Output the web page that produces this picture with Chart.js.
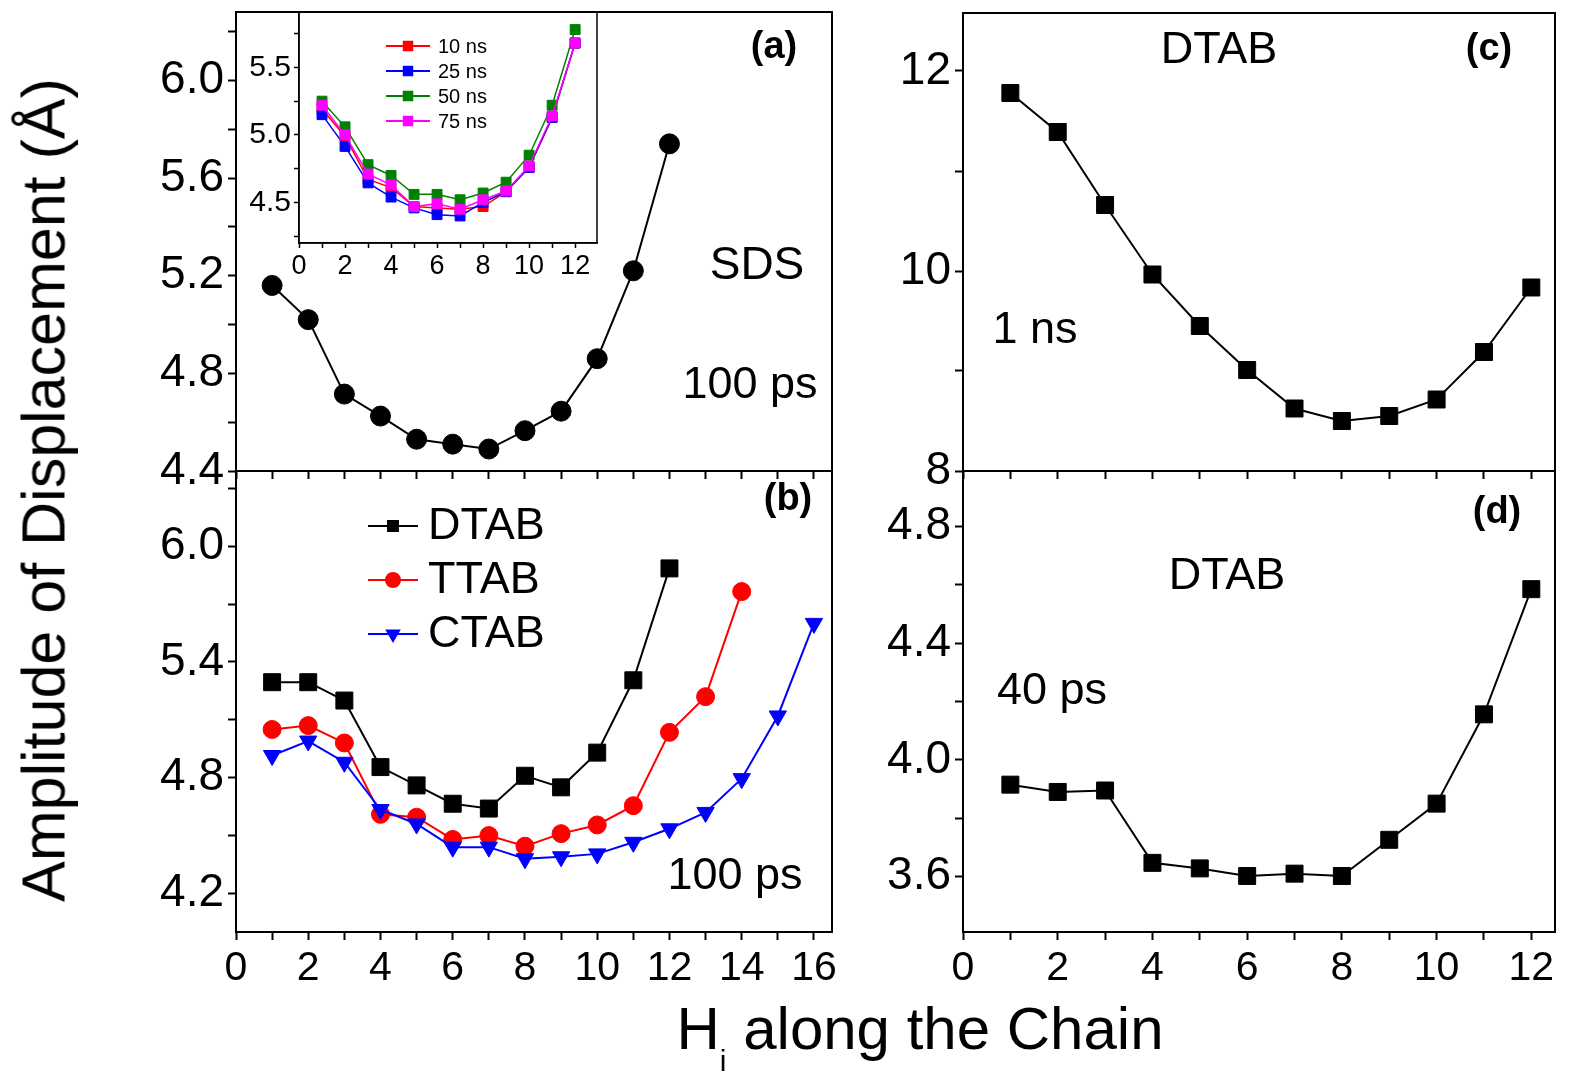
<!DOCTYPE html>
<html>
<head>
<meta charset="utf-8">
<script src="https://cdn.jsdelivr.net/npm/chart.js@4.4.0/dist/chart.umd.min.js"></script>
<style>
  body { margin: 0; background: #fff; }
  #wrap { position: relative; width: 1570px; height: 1078px; overflow: hidden; font-family: "Liberation Sans", Arial, sans-serif; color: #000; }
  canvas { position: absolute; left: 0; top: 0; }
  .lbl { position: absolute; transform: translate(-50%, -50%); line-height: 1; white-space: nowrap; }
  .tag { font-weight: bold; font-size: 38px; }
  .big { font-size: 45px; }
</style>
</head>
<body>
<div id="wrap">
  <canvas id="pa" width="1570" height="1078"></canvas>
  <canvas id="pb" width="1570" height="1078"></canvas>
  <canvas id="pc" width="1570" height="1078"></canvas>
  <canvas id="pd" width="1570" height="1078"></canvas>
  <canvas id="pin" width="1570" height="1078"></canvas>

  <div class="lbl tag" style="left:774px;top:45px">(a)</div>
  <div class="lbl big" style="left:757px;top:263px;font-size:46px">SDS</div>
  <div class="lbl big" style="left:750px;top:382px">100 ps</div>
  <div class="lbl tag" style="left:788px;top:497px">(b)</div>
  <div class="lbl big" style="left:735px;top:873px">100 ps</div>
  <div class="lbl big" style="left:1219px;top:47px">DTAB</div>
  <div class="lbl tag" style="left:1489px;top:47px">(c)</div>
  <div class="lbl big" style="left:1035px;top:327px">1 ns</div>
  <div class="lbl tag" style="left:1497px;top:510px">(d)</div>
  <div class="lbl big" style="left:1227px;top:573px">DTAB</div>
  <div class="lbl big" style="left:1052px;top:688px">40 ps</div>

  <div class="lbl" style="left:44px;top:490px;font-size:61px;transform:translate(-50%,-50%) rotate(-90deg)">Amplitude of Displacement (Å)</div>
  <div class="lbl" style="left:920px;top:1037px;font-size:60px">H<sub style="font-size:30px;vertical-align:-22px">i</sub> along the Chain</div>
</div>
<script>
// chain position H_i
const hIndex12 = [1, 2, 3, 4, 5, 6, 7, 8, 9, 10, 11, 12];
const hIndex14 = [1, 2, 3, 4, 5, 6, 7, 8, 9, 10, 11, 12, 13, 14];
const hIndex16 = [1, 2, 3, 4, 5, 6, 7, 8, 9, 10, 11, 12, 13, 14, 15, 16];

// (a) SDS 100 ps
const sdsA = [5.16, 5.02, 4.715, 4.625, 4.53, 4.51, 4.49, 4.565, 4.645, 4.86, 5.22, 5.74];
// (a) inset, different run lengths
const sds10ns = [5.19, 4.99, 4.67, 4.61, 4.47, 4.46, 4.45, 4.47, 4.58, 4.76, 5.13, 5.68];
const sds25ns = [5.15, 4.915, 4.645, 4.54, 4.46, 4.41, 4.40, 4.50, 4.58, 4.76, 5.13, 5.68];
const sds50ns = [5.25, 5.06, 4.78, 4.70, 4.56, 4.56, 4.52, 4.57, 4.65, 4.85, 5.22, 5.78];
const sds75ns = [5.22, 5.00, 4.71, 4.63, 4.47, 4.49, 4.45, 4.52, 4.585, 4.77, 5.14, 5.68];
// (b) 100 ps
const dtabB = [5.295, 5.295, 5.20, 4.855, 4.76, 4.665, 4.64, 4.81, 4.75, 4.93, 5.305, 5.885];
const ttabB = [5.05, 5.07, 4.98, 4.61, 4.595, 4.48, 4.50, 4.445, 4.51, 4.555, 4.655, 5.035, 5.22, 5.765];
const ctabB = [4.915, 4.99, 4.88, 4.635, 4.56, 4.44, 4.44, 4.38, 4.39, 4.405, 4.465, 4.535, 4.62, 4.795, 5.12, 5.60];
// (c) DTAB 1 ns, (d) DTAB 40 ps
const dtabC = [11.78, 11.39, 10.66, 9.965, 9.45, 9.01, 8.625, 8.50, 8.55, 8.715, 9.19, 9.835];
const dtabD = [3.915, 3.89, 3.895, 3.647, 3.628, 3.602, 3.61, 3.602, 3.726, 3.85, 4.156, 4.585];

// tick labels (major) and minor tick positions
const xMajor16 = [0, 2, 4, 6, 8, 10, 12, 14, 16];
const xMinor16 = [1, 3, 5, 7, 9, 11, 13, 15];
const xMajor12 = [0, 2, 4, 6, 8, 10, 12];
const xMinor12 = [1, 3, 5, 7, 9, 11];
const yMajorA = [4.4, 4.8, 5.2, 5.6, 6.0];
const yMinorA = [4.6, 5.0, 5.4, 5.8, 6.2];
const yMajorB = [4.2, 4.8, 5.4, 6.0];
const yMinorB = [4.5, 5.1, 5.7, 6.3];
const yMajorC = [8, 10, 12];
const yMinorC = [9, 11];
const yMajorD = [3.6, 4.0, 4.4, 4.8];
const yMinorD = [3.8, 4.2, 4.6];
const yMajorIn = [4.5, 5.0, 5.5];
const yMinorIn = [4.25, 4.75, 5.25, 5.75];

const FONT = '"Liberation Sans", Arial, sans-serif';
const W = 1570, H = 1078;

const pts = (xs, ys) => ys.map((y, i) => ({x: xs[i], y: y}));

const axis = (horiz, min, max, major, minor, o) => ({
    type: 'linear',
    min: min,
    max: max,
    afterBuildTicks: s => {
        s.ticks = major.concat(minor).sort((p, q) => p - q).map(v => ({value: v}));
    },
    afterFit: s => {
        if (horiz) s.height = o.size; else s.width = o.size;
        s.paddingTop = 0; s.paddingBottom = 0; s.paddingLeft = 0; s.paddingRight = 0;
    },
    ticks: {
        display: o.labels !== false,
        autoSkip: false,
        maxRotation: 0,
        color: '#000',
        padding: o.pad,
        font: {family: FONT, size: o.font},
        callback: v => major.includes(v) ? v.toFixed(o.dec) : ''
    },
    grid: {drawOnChartArea: false, drawTicks: true, tickLength: o.tick, tickWidth: o.lw, tickColor: '#000'},
    border: {display: true, color: '#000', width: o.lw}
});

// frame around the plot area
const boxPlugin = {
    id: 'box',
    afterDraw(chart, args, opts) {
        const {ctx, chartArea: a} = chart;
        ctx.save();
        ctx.strokeStyle = '#000';
        ctx.lineWidth = opts.lw || 2;
        ctx.strokeRect(a.left, a.top, a.right - a.left, a.bottom - a.top);
        ctx.restore();
    }
};

// legend drawn inside the plot
const innerLegend = {
    id: 'innerLegend',
    afterDraw(chart, args, opts) {
        if (!opts.show) return;
        const {ctx, chartArea: a} = chart;
        ctx.save();
        chart.data.datasets.forEach((ds, i) => {
            const y = a.top + opts.y + i * opts.dy;
            const x0 = a.left + opts.x;
            ctx.strokeStyle = ds.borderColor;
            ctx.lineWidth = opts.lw;
            ctx.beginPath();
            ctx.moveTo(x0, y);
            ctx.lineTo(x0 + opts.len, y);
            ctx.stroke();
            ctx.fillStyle = ds.pointBackgroundColor;
            ctx.strokeStyle = ds.pointBackgroundColor;
            Chart.helpers.drawPoint(ctx, {pointStyle: ds.pointStyle, radius: opts.r, rotation: ds.pointRotation || 0, borderWidth: 1}, x0 + opts.len / 2, y);
            ctx.fillStyle = '#000';
            ctx.font = opts.font + 'px ' + FONT;
            ctx.textBaseline = 'middle';
            ctx.fillText(ds.label, x0 + opts.len + opts.gap, y + 1);
        });
        ctx.restore();
    }
};

const series = (label, xs, ys, color, style, r, extra) => Object.assign({
    label: label,
    data: pts(xs, ys),
    borderColor: color,
    backgroundColor: color,
    pointBackgroundColor: color,
    pointBorderColor: color,
    pointBorderWidth: 1,
    borderWidth: 2,
    pointStyle: style,
    pointRadius: r,
    pointHoverRadius: r,
    tension: 0
}, extra || {});

const panel = (id, box, datasets, xAx, yAx, legend, lw) => {
    new Chart(document.getElementById(id), {
        type: 'line',
        data: {datasets: datasets},
        options: {
            responsive: false,
            animation: false,
            events: [],
            layout: {padding: {
                left: box.l - box.yw,
                top: box.t,
                right: W - box.r,
                bottom: H - box.b - box.xh
            }},
            scales: {x: xAx, y: yAx},
            plugins: {
                legend: {display: false},
                tooltip: {enabled: false},
                box: {lw: lw},
                innerLegend: legend || {show: false}
            }
        },
        plugins: [boxPlugin, innerLegend]
    });
};

const mainX = {size: 70, font: 41, pad: 4, tick: 8, lw: 2, dec: 0};
const mainY = {size: 130, font: 46, pad: 4, tick: 8, lw: 2, dec: 1};

// (a)
panel('pa', {l: 236, t: 12, r: 832, b: 471, yw: 130, xh: 70},
    [series('SDS', hIndex12, sdsA, '#000', 'circle', 10)],
    axis(true, 0, 16.5, xMajor16, xMinor16, Object.assign({}, mainX, {labels: false})),
    axis(false, 4.4, 6.28, yMajorA, yMinorA, mainY), null, 2);

// (b)
panel('pb', {l: 236, t: 471, r: 832, b: 932, yw: 130, xh: 70},
    [series('DTAB', hIndex12, dtabB, '#000', 'rect', 12, {order: 2}),
     series('TTAB', hIndex14, ttabB, '#ff0000', 'circle', 9, {order: 1}),
     series('CTAB', hIndex16, ctabB, '#0000ff', 'triangle', 10, {order: 0, pointRotation: 180})],
    axis(true, 0, 16.5, xMajor16, xMinor16, mainX),
    axis(false, 4.0, 6.39, yMajorB, yMinorB, mainY),
    {show: true, x: 132, y: 55, dy: 54, len: 50, gap: 10, r: 7, lw: 2, font: 45}, 2);

// (c)
panel('pc', {l: 963, t: 12, r: 1555, b: 471, yw: 130, xh: 70},
    [series('DTAB', hIndex12, dtabC, '#000', 'rect', 12)],
    axis(true, 0, 12.5, xMajor12, xMinor12, Object.assign({}, mainX, {labels: false})),
    axis(false, 8, 12.58, yMajorC, yMinorC, Object.assign({}, mainY, {dec: 0})), null, 2);

// (d)
panel('pd', {l: 963, t: 471, r: 1555, b: 932, yw: 130, xh: 70},
    [series('DTAB', hIndex12, dtabD, '#000', 'rect', 12)],
    axis(true, 0, 12.5, xMajor12, xMinor12, mainX),
    axis(false, 3.41, 4.99, yMajorD, yMinorD, mainY), null, 2);

// inset of (a)
const inX = {size: 40, font: 27, pad: 2, tick: 5, lw: 1.5, dec: 0};
const inY = {size: 70, font: 30, pad: 3, tick: 5, lw: 1.5, dec: 1};
panel('pin', {l: 299, t: 12, r: 597, b: 243, yw: 70, xh: 40},
    [series('10 ns', hIndex12, sds10ns, '#ff0000', 'rect', 7, {order: 3, borderWidth: 1.5}),
     series('25 ns', hIndex12, sds25ns, '#0000ff', 'rect', 7, {order: 2, borderWidth: 1.5}),
     series('50 ns', hIndex12, sds50ns, '#008000', 'rect', 7, {order: 1, borderWidth: 1.5}),
     series('75 ns', hIndex12, sds75ns, '#ff00ff', 'rect', 7, {order: 0, borderWidth: 1.5})],
    axis(true, 0, 12.95, xMajor12, xMinor12, inX),
    axis(false, 4.2, 5.91, yMajorIn, yMinorIn, inY),
    {show: true, x: 87, y: 34, dy: 25, len: 44, gap: 8, r: 6, lw: 2, font: 20}, 1.5);
</script>
</body>
</html>
